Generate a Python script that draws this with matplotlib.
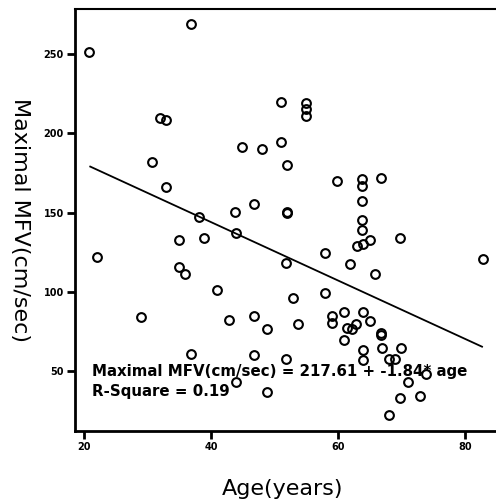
import matplotlib
matplotlib.use('Agg')
import matplotlib.pyplot as plt
import numpy as np

# age (years) vs maximal MFV (cm/sec)
age = [20.8, 36.8, 32.0, 32.9, 30.8, 32.9, 44.9, 43.8, 38.1, 35.0, 38.9, 43.9,
       51.0, 55.0, 55.0, 55.0, 48.0, 51.0, 52.0, 59.8, 63.8, 63.8, 66.8, 63.8,
       46.8, 52.0, 52.0, 63.8, 63.8, 65.0, 63.0, 63.9, 69.8, 82.9, 61.9, 65.9,
       58.0, 51.9, 41.0, 53.0, 58.0, 42.9, 46.8, 48.9, 53.7, 59.0, 59.0, 61.0,
       61.0, 46.8, 51.9, 43.9, 48.9,
       22.0, 35.0, 35.9, 29.0, 36.9,
       63.9, 65.0, 61.4, 62.2, 62.9, 66.8, 66.8, 63.9, 63.9, 66.9, 69.9, 68.1,
       69.0, 71.1, 73.9, 69.8, 72.9, 68.1]
mfv = [251, 268.7, 209.7, 208.3, 182, 166.4, 191, 150.6, 147, 133, 134, 137,
       219.8, 219, 215, 211, 190, 194.6, 180, 170, 171.2, 167, 171.6, 157,
       155.5, 150, 150.5, 145, 139, 133, 129.2, 130, 133.8, 121, 117.3, 111,
       124.6, 118.1, 101, 96.4, 99.3, 82, 84.6, 76.9, 79.6, 84.6, 80.4, 87,
       69.5, 60, 57.5, 43.3, 37,
       121.9, 115.6, 111, 84, 61.1,
       87, 81.5, 77.3, 76.9, 80, 74.1, 73, 63.2, 57, 64.6, 64.6, 57.9,
       57.9, 43.3, 48.5, 32.8, 34.5, 22.3]

intercept = 217.61
slope = -1.84
fit_x = [21, 82.7]

fig = plt.figure(figsize=(4.96, 5.04), dpi=100)
ax = fig.add_axes([75 / 496, 1 - 431 / 504, 1 - 75 / 496, (431 - 9) / 504])

ax.plot(age, mfv, 'o', mfc='none', mec='black', mew=1.5, ms=6.3, ls='none')
fx = np.array(fit_x)
ax.plot(fx, intercept + slope * fx, color='black', lw=1.3)

ax.set_xlim(18.6, 84.9)
ax.set_ylim(12.3, 278.3)
ax.set_xticks([20, 40, 60, 80])
ax.set_yticks([50, 100, 150, 200, 250])

ax.spines['right'].set_visible(False)
ax.spines['left'].set_linewidth(2)
ax.spines['bottom'].set_linewidth(2)
ax.spines['top'].set_linewidth(1.5)
ax.tick_params(axis='both', direction='out', length=6, width=2, labelsize=7, pad=2)
for lab in ax.get_xticklabels() + ax.get_yticklabels():
    lab.set_fontweight('bold')

ax.text(21.3, 50, 'Maximal MFV(cm/sec) = 217.61 + -1.84* age', fontsize=10.8,
        fontweight='bold', va='center', ha='left')
ax.text(21.3, 37.5, 'R-Square = 0.19', fontsize=10.8, fontweight='bold',
        va='center', ha='left')

fig.text(0.04, 1 - 220 / 504, 'Maximal MFV(cm/sec)', rotation=270, fontsize=16,
         ha='center', va='center')
fig.text(283 / 496, 1 - 489 / 504, 'Age(years)', fontsize=16, ha='center', va='center')

fig.savefig('out.png', dpi=100)
